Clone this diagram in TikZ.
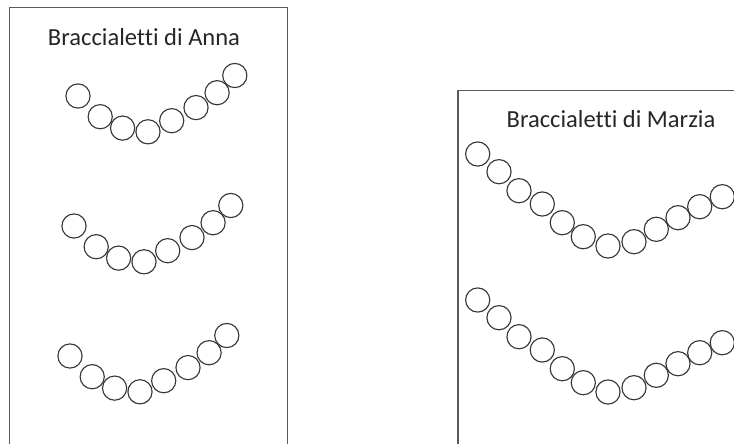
\documentclass[tikz,border=0pt]{standalone}
\usepackage{fontspec}
\setmainfont{Carlito}[Ligatures=NoCommon]

\begin{document}
\begin{tikzpicture}[x=0.75pt,y=-0.75pt,line join=round,line cap=round]

  \definecolor{framegray}{RGB}{90,90,90}
  \definecolor{beadgray}{RGB}{55,55,55}
  \tikzset{
    frame/.style={draw=framegray,line width=1pt},
    bead/.style={draw=beadgray,line width=0.85pt},
    boxtitle/.style={font=\fontsize{18.4}{22}\selectfont,text=black!85,anchor=base,inner sep=0pt}
  }

  % ---- page ----
  \path[use as bounding box,clip] (0,0) rectangle (734,443);

  % ---- Anna's box (bottom runs off the page) ----
  \draw[frame] (9.5,460) -- (9.5,7.5) -- (287.3,7.5) -- (287.3,460);
  \node[boxtitle] (annatitle) at (144,45) {Braccialetti di Anna};

  % ---- Anna's bracelets: 8 beads each ----
  \foreach \bx/\by in {78/96,74/226,70/356}
    \foreach \dx/\dy in {0/0,22.2/20.7,44.6/32.1,70/35.8,93.7/24.7,118/11.6,139.1/-3.3,156.8/-20.5}
      \draw[bead] (\bx+\dx,\by+\dy) circle[radius=12.1];

  % ---- Marzia's box (right and bottom run off the page) ----
  \draw[frame] (458,460) -- (458,90.7) -- (760,90.7);
  \node[boxtitle] (marziatitle) at (611,127) {Braccialetti di Marzia};

  % ---- Marzia's bracelets: 12 beads each ----
  \foreach \by in {154,300}
    \foreach \dx/\dy in {0/0,21.3/17.7,41.3/36.7,64.6/50,84.6/68.7,105.6/82.7,130.3/92,156.3/87.7,178.6/75.3,200.3/63.7,222/52.7,244.6/42.7}
      \draw[bead] (477.7+\dx,\by+\dy) circle[radius=12.1];

\end{tikzpicture}
\end{document}
